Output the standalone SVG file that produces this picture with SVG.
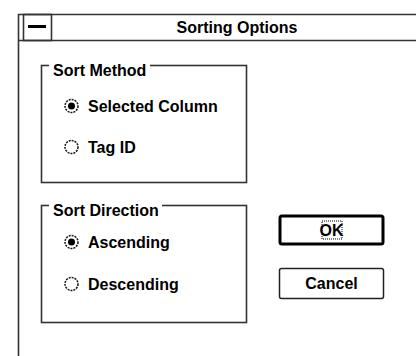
<svg xmlns="http://www.w3.org/2000/svg" width="416" height="356" viewBox="0 0 416 356">
<style>
.t{font-family:"Liberation Sans",Arial,sans-serif;font-weight:bold;font-size:16px;fill:#000}
.ln{fill:none;stroke:#333;stroke-width:1.6}
.rb{fill:#fff;stroke:#111;stroke-width:1.5}
.dot{fill:#000}
</style>
<rect width="416" height="356" fill="#fff"/>
<g id="frame">
<path class="ln" d="M18.5 356 V14.5 H416 M18.5 40.5 H416"/>
<rect x="23.5" y="14.5" width="28" height="26" class="ln"/>
<rect x="28" y="25" width="18" height="3" fill="#000"/>
<text class="t" x="237" y="33" text-anchor="middle">Sorting Options</text>
</g>
<g id="sort-method">
<rect x="41.5" y="65.5" width="205" height="117" class="ln"/>
<rect x="49" y="60" width="101" height="12" fill="#fff"/>
<text class="t" x="53" y="76">Sort Method</text>
</g>
<g id="opt-selected-column">
<circle class="rb" cx="71.5" cy="106" r="6.5" stroke-dasharray="2 1"/>
<circle class="dot" cx="71.5" cy="106" r="3.5"/>
<text class="t" x="88" y="112">Selected Column</text>
</g>
<g id="opt-tag-id">
<circle class="rb" cx="71.5" cy="147" r="6.5" stroke-dasharray="2 1"/>
<text class="t" x="88" y="153">Tag ID</text>
</g>
<g id="sort-direction">
<rect x="41.5" y="205.5" width="205" height="117" class="ln"/>
<rect x="49" y="200" width="113" height="12" fill="#fff"/>
<text class="t" x="53" y="216">Sort Direction</text>
</g>
<g id="opt-ascending">
<circle class="rb" cx="71.5" cy="242" r="6.5" stroke-dasharray="2 1"/>
<circle class="dot" cx="71.5" cy="242" r="3.5"/>
<text class="t" x="88" y="248">Ascending</text>
</g>
<g id="opt-descending">
<circle class="rb" cx="71.5" cy="284" r="6.5" stroke-dasharray="2 1"/>
<text class="t" x="88" y="290">Descending</text>
</g>
<g id="btn-ok">
<rect x="280" y="216" width="103" height="28" rx="2" fill="#fff" stroke="#000" stroke-width="3"/>
<rect x="322" y="221" width="20" height="18" fill="none" stroke="#000" stroke-width="1" stroke-dasharray="1 1"/>
<text class="t" x="331.5" y="236" text-anchor="middle">OK</text>
</g>
<g id="btn-cancel">
<rect x="279.5" y="268.5" width="104" height="30" rx="2" fill="#fff" stroke="#222" stroke-width="1.5"/>
<text class="t" x="331.5" y="289" text-anchor="middle">Cancel</text>
</g>
<g id="connectors"></g>
</svg>
